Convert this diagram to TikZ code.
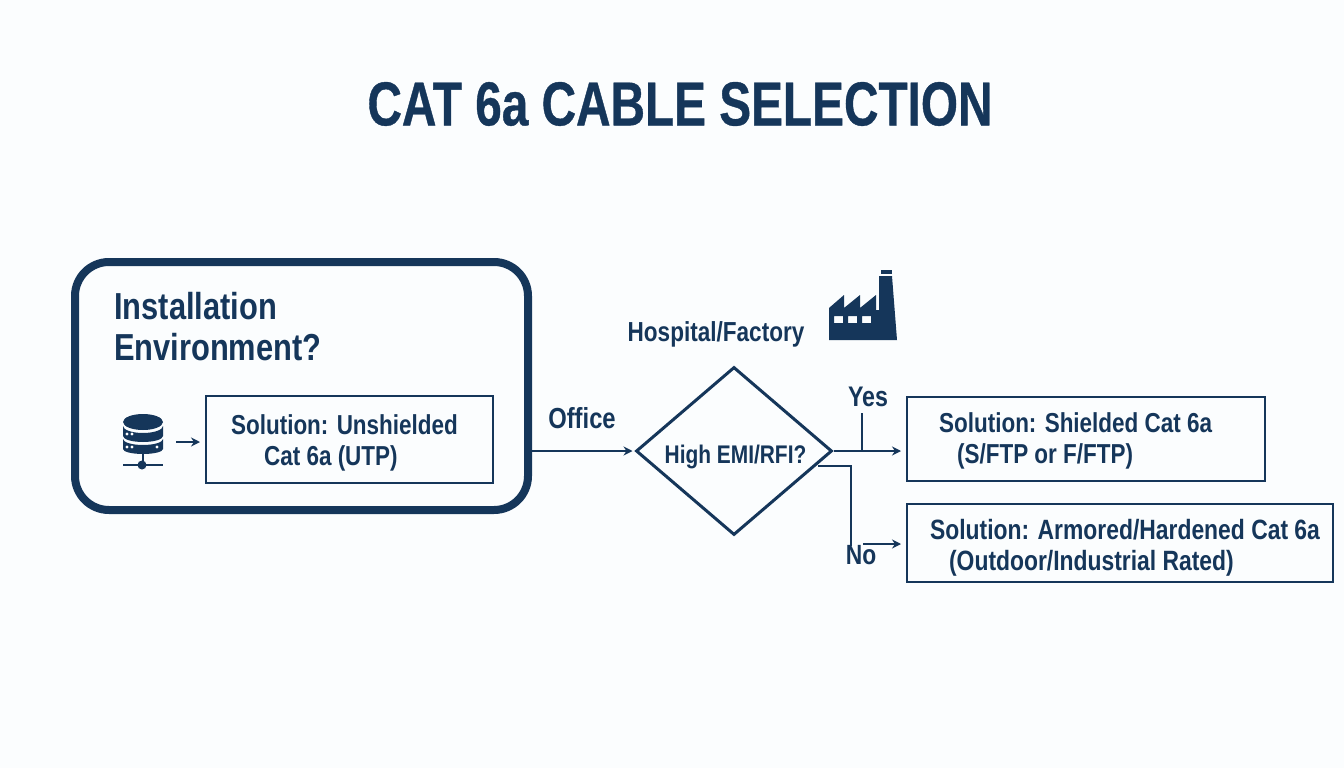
\documentclass[tikz,border=0pt]{standalone}
\usepackage{fontspec}
\setmainfont[FakeStretch=0.82]{Liberation Sans}
\newfontfamily\titlefont[FakeStretch=0.77,FakeBold=0.6]{Liberation Sans}
\usetikzlibrary{positioning,shapes.geometric,arrows.meta}
\definecolor{navy}{HTML}{15365A}
\definecolor{paper}{HTML}{FBFDFE}
\tikzset{
  labeltext/.style={text=navy,font=\fontsize{#1}{#1}\selectfont\bfseries,inner sep=0pt},
  solbox/.style={draw=navy,line width=2.2pt,text=navy,align=flush left,inner ysep=0pt,
    font=\fontsize{#1}{31}\selectfont\bfseries},
  conn/.style={draw=navy,line width=1.6pt},
  connarrow/.style={conn,-{Stealth[length=9pt,width=9pt]},shorten >=5pt}
}
\begin{document}
\begin{tikzpicture}[x=1pt,y=-1pt]
  \useasboundingbox[fill=paper] (0,0) rectangle (1344,768);
  \node[text=navy,font=\fontsize{62}{62}\selectfont\titlefont\bfseries,inner sep=0pt] (title) at (680,104) {CAT 6a CABLE SELECTION};
  % left box
  \node[draw=navy,line width=8pt,rounded corners=34pt,minimum width=453pt,minimum height=248pt,inner sep=0pt] (envbox) at (301.5,386) {};
  \node[text=navy,inner sep=0pt,text width=260pt,align=flush left,font=\fontsize{37.6}{41}\selectfont\bfseries,anchor=north west] (envtext) at (114,292) {Installation\\Environment?};
  \node[solbox=27.4,anchor=west,minimum height=87pt,text width=237pt,inner xsep=25pt,text height=27pt] (utp) at (205,439.5) {Solution: Unshielded\\\hspace*{33pt}Cat 6a (UTP)};
  % server icon
  \fill[navy] (143,422) ellipse[x radius=20pt,y radius=8pt];
  \fill[navy] (123,426) arc[start angle=180,end angle=360,x radius=20pt,y radius=7pt] -- (163,436)
    arc[start angle=0,end angle=-180,x radius=20pt,y radius=6pt] -- cycle;
  \fill[navy] (123,439) arc[start angle=180,end angle=360,x radius=20pt,y radius=6pt] -- (163,449)
    arc[start angle=0,end angle=-180,x radius=20pt,y radius=5pt] -- cycle;
  \foreach \px/\py in {127/434,132/434,127/447,132/447,157/447} {
    \fill[white] (\px,\py) circle (1.6pt);
  }
  \draw[navy,line width=2.4pt] (143,453) -- (143,465) (123,465) -- (163,465);
  \fill[navy] (142,465) circle (4.5pt);
  \coordinate (serverout) at (176,442);
  \draw[connarrow] (serverout) -- (serverout -| utp.west);
  % decision
  \node[diamond,draw=navy,line width=3pt,aspect=1.167,minimum width=196pt,minimum height=168pt,inner sep=0pt] (emi) at (734,451) {};
  \node[labeltext=25.5] (emitext) at (735.5,457) {High EMI/RFI?};
  \draw[connarrow,shorten >=2pt] (emi.west -| envbox.east) -- (emi.west);
  \node[labeltext=29] (office) at (582,418) {Office};
  \node[labeltext=27.5] (hospital) at (716,334) {Hospital/Factory};
  % factory icon
  \fill[navy,even odd rule] (829,340) -- (829,308) -- (844,295) -- (844,308) -- (860,295) -- (860,308) -- (876,295) -- (876,310) -- (879,310) -- (879,276) -- (892,276) -- (897,340) -- cycle
    (834,316) rectangle (843,323) (848,316) rectangle (857,323) (862,316) rectangle (871,323);
  \fill[navy] (881,270) rectangle (892,274);
  % solutions
  \node[solbox=27.4,anchor=west,minimum height=84pt,text width=326pt,inner xsep=16pt,text height=23pt] (shielded) at (906,439) {\hspace*{16pt}Solution: Shielded Cat 6a\\\hspace*{34pt}(S/FTP or F/FTP)};
  \node[solbox=27.9,anchor=west,minimum height=78pt,text width=402pt,inner xsep=12pt,text height=29pt] (armored) at (906,543) {\hspace*{11pt}Solution: Armored/Hardened Cat 6a\\\hspace*{30pt}(Outdoor/Industrial Rated)};
  \draw[connarrow] (emi.east) -- (emi.east -| shielded.west);
  \node[labeltext=28.3] (yes) at (868,397) {Yes};
  \coordinate (yestop) at (862,413);
  \draw[conn] (yestop) -- (yestop |- emi.east);
  \coordinate (nostart) at (818,466);
  \coordinate (nobend) at (851,466);
  \coordinate (noend) at (851,546);
  \draw[conn] (nostart) -- (nobend) -- (noend);
  \node[labeltext=27.8] (no) at (861,555) {No};
  \coordinate (nogap) at (863,544);
  \draw[connarrow] (nogap) -- (nogap -| armored.west);
\end{tikzpicture}
\end{document}
